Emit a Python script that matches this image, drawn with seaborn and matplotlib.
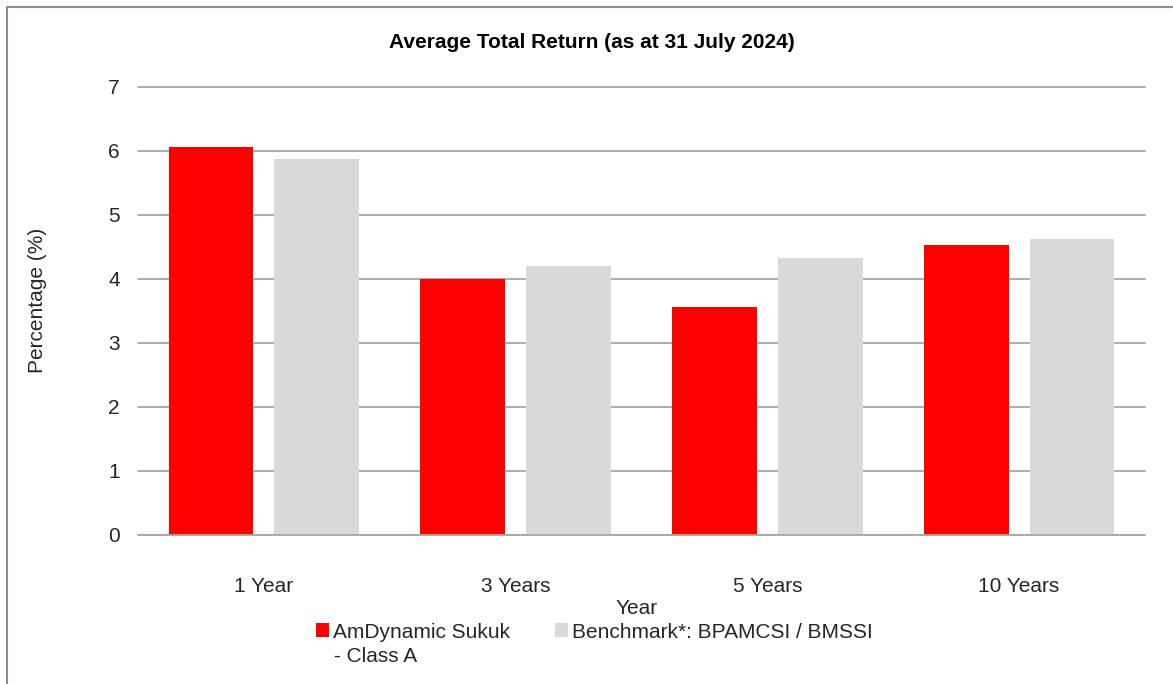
import pandas as pd
import matplotlib
matplotlib.use('Agg')
import matplotlib.pyplot as plt
from matplotlib.lines import Line2D
import seaborn as sns

# chart values
periods = ['1 Year', '3 Years', '5 Years', '10 Years']
fund_returns = [6.07, 4.00, 3.56, 4.53]
bench_returns = [5.87, 4.21, 4.33, 4.63]
series_names = ['AmDynamic Sukuk', 'Benchmark*: BPAMCSI / BMSSI']
y_ticks = [0, 1, 2, 3, 4, 5, 6, 7]

df = pd.DataFrame({
    'period': periods * 2,
    'value': fund_returns + bench_returns,
    'series': [series_names[0]] * len(periods) + [series_names[1]] * len(periods),
})

sns.set_style('white')
plt.rcParams['font.family'] = ['Liberation Sans', 'DejaVu Sans']

fig = plt.figure(figsize=(11.73, 6.84), dpi=100)
ax = fig.add_axes([138 / 1173, 1 - 535 / 684, (1145 - 138) / 1173, (535 - 87) / 684])

colors = {series_names[0]: '#ff0000', series_names[1]: '#d9d9d9'}
sns.barplot(data=df, x='period', y='value', hue='series', order=periods,
            hue_order=series_names, palette=colors, width=0.84, gap=0.2,
            saturation=1, linewidth=0, ax=ax)

ax.set_ylim(0, 7)
ax.set_xlim(-0.5, len(periods) - 0.5)
ax.set_yticks(y_ticks)
ax.yaxis.grid(True, color='#a6a6a6', lw=1.3)
ax.set_axisbelow(True)
for gl in ax.get_ygridlines():
    gl.set_clip_on(False)
ax.axhline(0, color='#a6a6a6', lw=1.3, zorder=3)
for s in ax.spines.values():
    s.set_visible(False)
ax.tick_params(axis='y', length=0, pad=13, labelsize=15, labelcolor='#262626')
ax.tick_params(axis='x', length=0, pad=30, labelsize=15, labelcolor='#262626')
ax.set_xlabel('')
ax.set_ylabel('')

# legend below the x label; second line of the fund name added as text
handles, labels = ax.get_legend_handles_labels()
ax.get_legend().remove()
fig.legend(handles, labels, loc='center left', bbox_to_anchor=(316 / 1173, 1 - 632 / 684),
           ncol=2, frameon=False, fontsize=15, handlelength=0.62, handleheight=0.62,
           handletextpad=0.2, columnspacing=2.15, borderpad=0, borderaxespad=0,
           labelcolor='#262626')
fig.text(334 / 1173, 1 - 656 / 684, '- Class A', ha='left', va='center',
         fontsize=15, color='#262626')

fig.text(592 / 1173, 1 - 42 / 684, 'Average Total Return (as at 31 July 2024)',
         ha='center', va='center', fontsize=15, fontweight='bold', color='black')
fig.text(38 / 1173, 1 - 300 / 684, 'Percentage (%)', rotation=90,
         ha='center', va='center', fontsize=15, color='#262626')
fig.text(637 / 1173, 1 - 608 / 684, 'Year', ha='center', va='center',
         fontsize=15, color='#262626')

# chart frame (only left and top edges show in the reference)
fig.add_artist(Line2D([7 / 1173, 7 / 1173], [0, 1 - 7 / 684], color='#8c8c8c', lw=1.5))
fig.add_artist(Line2D([7 / 1173, 1], [1 - 7 / 684, 1 - 7 / 684], color='#8c8c8c', lw=1.5))

fig.savefig('out.png', dpi=100)
